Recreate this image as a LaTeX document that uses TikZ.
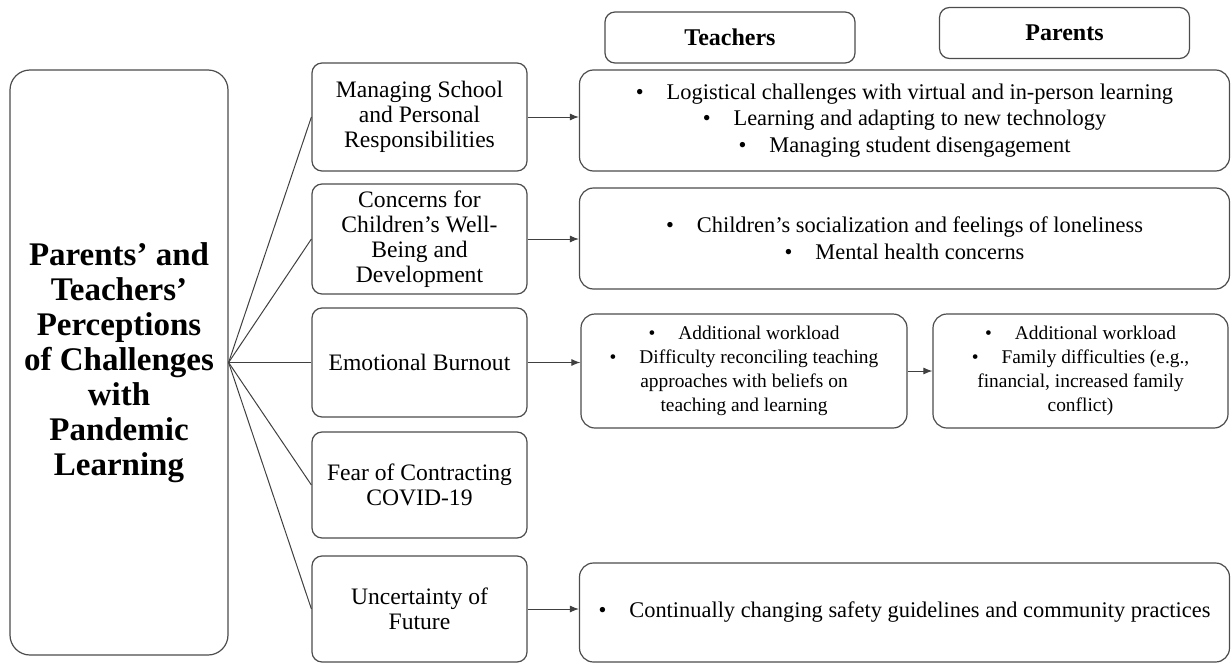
\documentclass[tikz,border=0pt]{standalone}
\usepackage{fontspec}
\setmainfont{Liberation Serif}
\usetikzlibrary{arrows.meta}
\tikzset{
  box/.style={draw=black!70, line width=0.6pt, rounded corners=5pt, align=center, inner sep=2pt},
  mainbox/.style={box, rounded corners=10pt, minimum width=109pt, minimum height=292.5pt,
    font=\fontsize{16.5}{17.5}\selectfont\bfseries},
  midbox/.style={box, minimum width=107.5pt, font=\fontsize{11.8}{12.5}\selectfont},
  headbox/.style={box, minimum width=125pt, minimum height=25.5pt, font=\fontsize{12}{14}\selectfont\bfseries},
  itembox/.style={box, rounded corners=7pt, minimum width=325pt, minimum height=50.5pt,
    font=\fontsize{11.2}{13.3}\selectfont},
  smallbox/.style={box, rounded corners=7pt, minimum height=57pt, font=\fontsize{9.7}{12.1}\selectfont},
  link/.style={draw=black!75, line width=0.5pt},
  arr/.style={link, -{Latex[length=4.5pt,width=3.5pt]}}
}
\newcommand{\bul}{\textbullet\hspace{11.5pt}}
\begin{document}
\begin{tikzpicture}[x=0.5pt,y=-0.5pt]
  \useasboundingbox (0,0) rectangle (1231,664);
  % headers
  \node[headbox] (teach) at (730,37.5) {Teachers};
  \node[headbox] (par) at (1064.5,33) {Parents};
  % central theme
  \node[mainbox] (theme) at (119,362.5) {Parents' and\\Teachers'\\Perceptions\\of Challenges\\with\\Pandemic\\Learning};
  % challenges
  \node[midbox, minimum height=54pt] (manage) at (419.5,117) {Managing School\\and Personal\\Responsibilities};
  \node[midbox, minimum height=55pt] (concern) at (419.5,239) {Concerns for\\Children's Well-\\Being and\\Development};
  \node[midbox, minimum height=54.5pt] (burnout) at (419.5,362.5) {Emotional Burnout};
  \node[midbox, minimum height=53pt] (fear) at (419.5,485) {Fear of Contracting\\COVID-19};
  \node[midbox, minimum height=53pt] (future) at (419.5,609) {Uncertainty of\\Future};
  % details
  \node[itembox] (logist) at (904.5,120.5) {\bul Logistical challenges with virtual and in-person learning\\
    \bul Learning and adapting to new technology\\\bul Managing student disengagement};
  \node[itembox] (social) at (904.5,238.5) {\bul Children's socialization and feelings of loneliness\\
    \bul Mental health concerns};
  \node[smallbox, minimum width=163pt] (workt) at (744,371) {\bul Additional workload\\
    \bul Difficulty reconciling teaching\\approaches with beliefs on\\teaching and learning};
  \node[smallbox, minimum width=147.5pt] (workp) at (1080.5,371) {\bul Additional workload\\
    \bul Family difficulties (e.g.,\\financial, increased family\\conflict)};
  \node[itembox, minimum height=49.5pt] (safety) at (904.5,612.5) {\bul Continually changing safety guidelines and community practices};
  % connectors
  \foreach \c in {manage,concern,burnout,fear,future}
    \draw[link] (theme.east) -- (\c.west);
  \draw[arr] (manage.east) -- (manage.east -| logist.west);
  \draw[arr] (concern.east) -- (concern.east -| social.west);
  \draw[arr] (burnout.east) -- (burnout.east -| workt.west);
  \draw[arr] (workt.east) -- (workp.west);
  \draw[arr] (future.east) -- (future.east -| safety.west);
\end{tikzpicture}
\end{document}
